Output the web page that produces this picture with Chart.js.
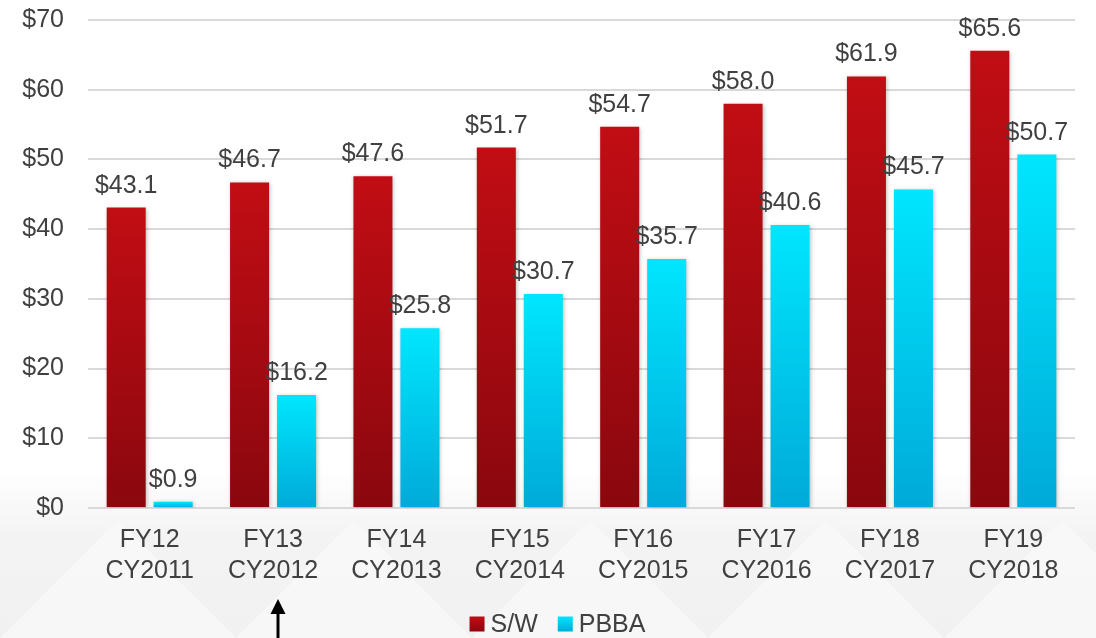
<!DOCTYPE html>
<html>
<head>
<meta charset="utf-8">
<script src="https://cdn.jsdelivr.net/npm/chart.js@4/dist/chart.umd.min.js"></script>
<style>
html,body{margin:0;padding:0;background:#fff;}
#wrap{width:1096px;height:638px;position:relative;}
</style>
</head>
<body>
<div id="wrap"><canvas id="c" width="1096" height="638"></canvas></div>
<script>
const categories = [['FY12','CY2011'],['FY13','CY2012'],['FY14','CY2013'],['FY15','CY2014'],['FY16','CY2015'],['FY17','CY2016'],['FY18','CY2017'],['FY19','CY2018']];
const swValues = [43.1, 46.7, 47.6, 51.7, 54.7, 58.0, 61.9, 65.6];
const pbbaValues = [0.9, 16.2, 25.8, 30.7, 35.7, 40.6, 45.7, 50.7];
const seriesNames = ['S/W', 'PBBA'];
const yTicks = [0, 10, 20, 30, 40, 50, 60, 70];

const FONT = '"Liberation Sans", Arial, sans-serif';
const TEXT = '#404040';
const redTop = '#c20d14', redBot = '#8a070e';
const cyanTop = '#00e6ff', cyanBot = '#00aad8';

function barGradient(ctx, top, bot) {
  const chart = ctx.chart;
  if (!chart.chartArea || !chart.scales.y) return top;
  const v = ctx.raw;
  const y0 = chart.scales.y.getPixelForValue(v);
  const y1 = chart.scales.y.getPixelForValue(0);
  if (!isFinite(y0) || !isFinite(y1) || y0 === y1) return top;
  const g = chart.ctx.createLinearGradient(0, y0, 0, y1);
  g.addColorStop(0, top);
  g.addColorStop(1, bot);
  return g;
}

const bgPlugin = {
  id: 'bg',
  beforeDraw(chart) {
    const c = chart.ctx, W = chart.width, H = chart.height;
    c.save();
    c.fillStyle = '#ffffff';
    c.fillRect(0, 0, W, H);
    const g = c.createLinearGradient(0, 470, 0, H);
    g.addColorStop(0, 'rgba(242,242,242,0)');
    g.addColorStop(0.4, 'rgba(242,242,242,0.9)');
    g.addColorStop(1, 'rgba(241,241,241,1)');
    c.fillStyle = g;
    c.fillRect(0, 470, W, H - 470);
    c.fillStyle = 'rgba(250,250,250,0.7)';
    const P = 236;
    for (let cx = -P / 2; cx < W + P; cx += P) {
      c.beginPath();
      c.moveTo(cx, 520);
      c.lineTo(cx + P / 2, 638);
      c.lineTo(cx - P / 2, 638);
      c.closePath();
      c.fill();
    }
    c.restore();
  }
};

const labelPlugin = {
  id: 'vlabels',
  beforeDatasetsDraw(chart) {
    const c = chart.ctx;
    c.save();
    c.shadowColor = 'rgba(0,0,0,0.25)';
    c.shadowBlur = 4;
    c.shadowOffsetX = 1;
    c.shadowOffsetY = 1;
  },
  afterDatasetsDraw(chart) {
    const c = chart.ctx;
    c.restore();
    c.save();
    c.font = '25px ' + FONT;
    c.fillStyle = TEXT;
    c.textAlign = 'center';
    c.textBaseline = 'alphabetic';
    chart.data.datasets.forEach((ds, di) => {
      const meta = chart.getDatasetMeta(di);
      meta.data.forEach((bar, i) => {
        c.fillText('$' + ds.data[i].toFixed(1), bar.x, bar.y - 15);
      });
    });
    c.restore();
  },
  afterDraw(chart) {
    const c = chart.ctx;
    c.save();
    c.font = '25px ' + FONT;
    c.textBaseline = 'middle';
    c.textAlign = 'left';
    const box = 15, gap = 6, spacing = 20;
    const items = chart.data.datasets.map((ds, i) => ({label: ds.label, w: c.measureText(ds.label).width, i}));
    let total = 0;
    items.forEach((it, k) => { total += box + gap + it.w + (k < items.length - 1 ? spacing : 0); });
    let x = 557.5 - total / 2;
    const yc = 624;
    const cols = [[redTop, redBot], [cyanTop, cyanBot]];
    items.forEach((it) => {
      const g = c.createLinearGradient(0, yc - box / 2, 0, yc + box / 2);
      g.addColorStop(0, cols[it.i][0]);
      g.addColorStop(1, cols[it.i][1]);
      c.fillStyle = g;
      c.fillRect(x, yc - box / 2, box, box);
      c.fillStyle = TEXT;
      c.fillText(it.label, x + box + gap, yc + 1);
      x += box + gap + it.w + spacing;
    });
    c.strokeStyle = '#000';
    c.fillStyle = '#000';
    c.lineWidth = 3;
    c.beginPath();
    c.moveTo(278, 640);
    c.lineTo(278, 612);
    c.stroke();
    c.beginPath();
    c.moveTo(278, 599);
    c.lineTo(270.5, 614);
    c.lineTo(285.5, 614);
    c.closePath();
    c.fill();
    c.restore();
  }
};

new Chart(document.getElementById('c'), {
  type: 'bar',
  data: {
    labels: categories,
    datasets: [
      { label: seriesNames[0], data: swValues, backgroundColor: (ctx) => barGradient(ctx, redTop, redBot) },
      { label: seriesNames[1], data: pbbaValues, backgroundColor: (ctx) => barGradient(ctx, cyanTop, cyanBot) }
    ]
  },
  options: {
    responsive: false,
    animation: false,
    devicePixelRatio: 1,
    categoryPercentage: 0.762,
    barPercentage: 0.83,
    layout: { padding: { top: 20, right: 21, bottom: 0, left: 0 } },
    plugins: { legend: { display: false }, tooltip: { enabled: false } },
    scales: {
      x: {
        grid: { display: false, drawTicks: false },
        border: { display: false },
        ticks: { color: TEXT, font: { family: FONT, size: 25, lineHeight: 1.24 }, padding: 17, maxRotation: 0, autoSkip: false },
        afterFit(s) { s.height = 130; s.paddingTop = 0; s.paddingBottom = 0; }
      },
      y: {
        min: 0, max: 70,
        afterBuildTicks(s) { s.ticks = yTicks.map(v => ({ value: v })); },
        grid: { color: '#d9d9d9', lineWidth: 2, drawTicks: false },
        border: { display: false },
        ticks: { color: TEXT, font: { family: FONT, size: 25 }, padding: 24, callback: (v) => '$' + v },
        afterFit(s) { s.width = 88; s.paddingTop = 0; s.paddingBottom = 0; }
      }
    }
  },
  plugins: [bgPlugin, labelPlugin]
});
</script>
</body>
</html>
